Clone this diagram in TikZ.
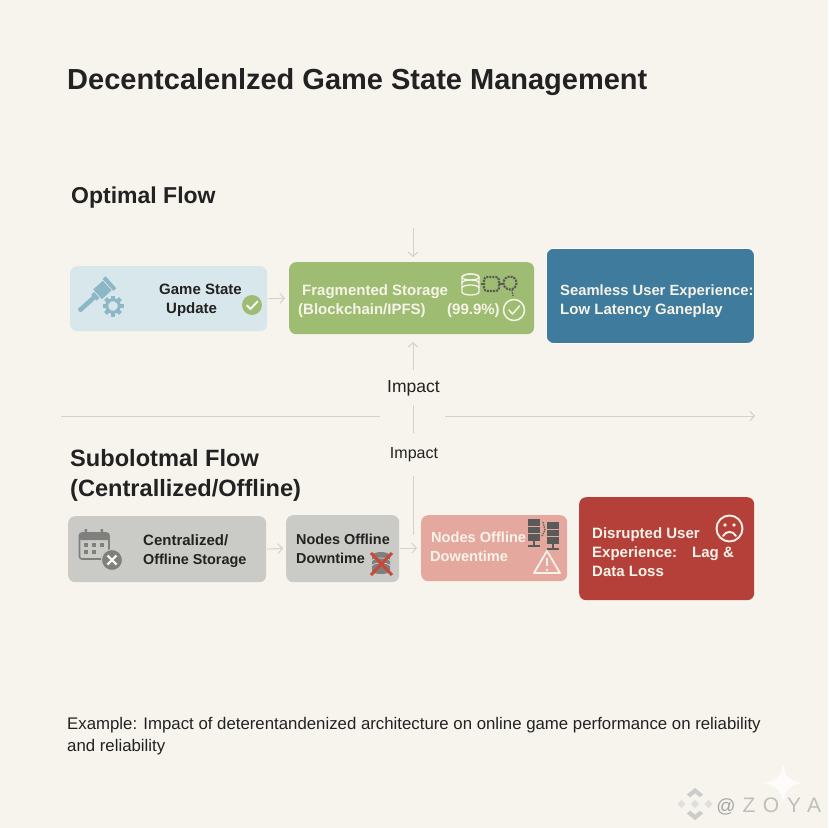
\documentclass[tikz,border=0pt]{standalone}
\usepackage{fontspec}
\setmainfont{Liberation Sans}
\usetikzlibrary{arrows.meta}
\definecolor{bgc}{HTML}{F6F4EC}
\definecolor{ink}{HTML}{222222}
\definecolor{linec}{HTML}{D2D2CC}
\definecolor{gameF}{HTML}{D8E7EC}
\definecolor{fragF}{HTML}{9FBD72}
\definecolor{seamF}{HTML}{3F7B9D}
\definecolor{grayF}{HTML}{CACAC7}
\definecolor{pinkF}{HTML}{E5A89F}
\definecolor{redF}{HTML}{B5403A}
\definecolor{iconB}{HTML}{8DB6C7}
\definecolor{iconG}{HTML}{7F7F7D}
\definecolor{iconD}{HTML}{5A5A58}
\definecolor{lighttxt}{HTML}{F6F3E8}
\definecolor{xred}{HTML}{C8483C}
\tikzset{
  boxn/.style={rounded corners=7pt,inner sep=0pt,anchor=north west},
  txt/.style={inner sep=0pt,anchor=base west,text=ink},
  dark/.style={txt,font=\fontsize{15}{19}\selectfont\bfseries},
  darks/.style={txt,font=\fontsize{14.4}{19}\selectfont\bfseries},
  lite/.style={txt,text=lighttxt,font=\fontsize{15}{19}\selectfont\bfseries},
  lites/.style={txt,text=lighttxt,font=\fontsize{14.6}{19}\selectfont\bfseries},
  arr/.style={draw=linec,line width=1pt,-{Straight Barb[length=4.5pt,width=10pt]}},
  plainline/.style={draw=linec,line width=1pt},
  impactl/.style={inner sep=0pt,text=ink},
  wm/.style={inner sep=0pt,anchor=base,text=gray!50,font=\fontsize{21}{24}\selectfont},
}
\begin{document}
\begin{tikzpicture}[x=1pt,y=-1pt]
\useasboundingbox (0,0) rectangle (828,828);
\fill[bgc] (0,0) rectangle (828,828);

% headings
\node[txt,font=\fontsize{29}{34}\selectfont\bfseries] (title) at (67,89) {Decentcalenlzed Game State Management};
\node[txt,font=\fontsize{23}{30}\selectfont\bfseries] (optimal) at (71,203) {Optimal Flow};
\node[txt,font=\fontsize{23.6}{30}\selectfont\bfseries] (sub1) at (70,466) {Subolotmal Flow};
\node[txt,font=\fontsize{23.6}{30}\selectfont\bfseries] (sub2) at (70,496) {(Centrallized/Offline)};

% boxes
\node[boxn,fill=gameF,minimum width=197pt,minimum height=65pt] (game) at (70,266) {};
\node[boxn,fill=fragF,minimum width=245pt,minimum height=72pt] (frag) at (289,262) {};
\node[boxn,fill=seamF,draw=white,line width=.8pt,minimum width=208pt,minimum height=95pt] (seam) at (546,248) {};
\node[boxn,fill=grayF,minimum width=198pt,minimum height=66pt] (cent) at (68,516) {};
\node[boxn,fill=grayF,minimum width=113pt,minimum height=67pt] (nodesa) at (286,515) {};
\node[boxn,fill=pinkF,minimum width=146pt,minimum height=66pt] (nodesb) at (421,515) {};
\node[boxn,fill=redF,minimum width=175pt,minimum height=103pt] (disr) at (579,497) {};

% box texts
\node[dark] (t1) at (159,294) {Game State};
\node[dark] (t2) at (166,313) {Update};
\node[lite] (t3) at (302,295) {Fragmented Storage};
\node[lite] (t4) at (298,314) {(Blockchain/IPFS)};
\node[lite] (t5) at (447,314) {(99.9\%)};
\node[lites,font=\fontsize{14.8}{19}\selectfont\bfseries] (t6) at (560,295) {Seamless User Experience:};
\node[lite] (t7) at (560,314) {Low Latency Ganeplay};
\node[dark] (t8) at (143,545) {Centralized/};
\node[darks] (t9) at (143,564) {Offline Storage};
\node[darks] (t10) at (296,544) {Nodes Offline};
\node[darks] (t11) at (296,563) {Downtime};
\node[lites] (t12) at (431,542) {Nodes Offline};
\node[lites] (t13) at (430,561) {Dowentime};
\node[lite] (t14) at (592,538) {Disrupted User};
\node[lite] (t15) at (592,557) {Experience:};
\node[lite] (t16) at (692,557) {Lag \&};
\node[lite] (t17) at (592,576) {Data Loss};

% impact labels and connector ends
\node[impactl,font=\fontsize{17.5}{20}\selectfont] (impa) at (413.5,388) {Impact};
\node[impactl,font=\fontsize{16}{19}\selectfont] (impb) at (414,455) {Impact};
\coordinate (topin) at (413,228);
\coordinate (fragtop) at (413,257);
\coordinate (fragbot) at (413,342);
\coordinate (impaup) at (413,370);
\coordinate (impadn) at (413,405);
\coordinate (impbup) at (413,433);
\coordinate (impbdn) at (413,476);
\coordinate (vend) at (413,535);
\coordinate (divL) at (61,416);
\coordinate (divM) at (380,416);
\coordinate (divN) at (445,416);
\coordinate (divR) at (755,416);

% connectors
\path[arr] (game.east) ++(1,0) coordinate (ga) (frag.west) ++(-4,0) coordinate (fa) (ga) -- (fa);
\path[arr] (topin) -- (fragtop);
\path[arr] (impaup) -- (fragbot);
\path[plainline] (impadn) -- (impbup);
\path[plainline] (impbdn) -- (vend);
\path[plainline] (divL) -- (divM);
\path[arr] (divN) -- (divR);
\path[arr] (cent.east) ++(1,0) coordinate (ca) (nodesa.west) ++(-3,-.5) coordinate (cb) (ca) -- (cb);
\path[arr] (nodesa.east) ++(1,-.5) coordinate (na) (nodesb.west) ++(-4,-.0) coordinate (nb) (na) -- (nb);

% hammer + gear
\begin{scope}[shift={(79,311)},rotate=42]
  \fill[iconB,rounded corners=1pt] (0,-2.3) rectangle (21,2.3);
  \fill[iconB] (20,-4) rectangle (24,4);
  \fill[iconB] (25,-6.5) rectangle (38,6.5);
  \fill[iconB] (39,-8) rectangle (43,8);
\end{scope}
\begin{scope}[shift={(113,306)}]
  \draw[iconB,line width=3pt] (0,0) circle (6.3);
  \foreach \a in {0,45,...,315} \fill[iconB,rotate=\a] (7,-2) rectangle (10.5,2);
\end{scope}
% check in game box
\fill[fragF] (252,305) circle (10);
\draw[white,line width=1.8pt,line cap=round,line join=round] (247,305.5) -- (250.5,309) -- (257.5,301.5);

% database + chain in frag box
\begin{scope}[shift={(470.5,0)},lighttxt,line width=1.3pt]
  \draw (-8.5,277) arc[start angle=180,end angle=360,x radius=8.5,y radius=3] -- (8.5,292) arc[start angle=0,end angle=180,x radius=8.5,y radius=3] -- cycle;
  \draw (0,277) ellipse[x radius=8.5,y radius=3];
  \draw (-8.5,283) arc[start angle=180,end angle=360,x radius=8.5,y radius=3];
  \draw (-8.5,288) arc[start angle=180,end angle=360,x radius=8.5,y radius=3];
\end{scope}
\draw[iconD,line width=2.1pt,densely dotted,rounded corners=3pt] (484,277) rectangle (499,291);
\draw[iconD,line width=2.1pt,densely dotted] (510,283) circle (6.5);
\draw[iconD,line width=1.6pt] (481,284) -- (484,284) (499,284) -- (504,284);
\draw[iconD,line width=1.4pt,densely dotted] (512,290) -- (513,296);
\draw[lighttxt,line width=1.5pt] (514,310) circle (10.5);
\draw[lighttxt,line width=1.5pt,line cap=round,line join=round] (509,310) -- (512.5,314) -- (519.5,306);

% calendar + badge
\begin{scope}[iconG]
  \draw[line width=1.6pt,rounded corners=2.5pt] (79.5,533) rectangle (109,559);
  \fill[rounded corners=2pt] (79.5,533) rectangle (109,540);
  \fill (84.5,529) rectangle (87,535) (100.5,529) rectangle (103,535);
  \foreach \x/\y in {86/545,94/545,102/545,86/552,94/552} \fill (\x-2,\y-1.7) rectangle (\x+2,\y+1.7);
\end{scope}
\fill[iconG,draw=grayF,line width=1pt] (112,560) circle (10.5);
\draw[lighttxt,line width=2.2pt] (107.5,555.5) -- (116.5,564.5) (116.5,555.5) -- (107.5,564.5);

% crossed database
\begin{scope}[shift={(381,0)},iconG]
  \fill (-9,556) arc[start angle=180,end angle=360,x radius=9,y radius=3] -- (9,571) arc[start angle=0,end angle=180,x radius=9,y radius=3] -- cycle;
  \fill (0,556) ellipse[x radius=9,y radius=4];
  \draw[grayF,line width=.8pt] (-9,561) arc[start angle=180,end angle=360,x radius=9,y radius=3];
  \draw[grayF,line width=.8pt] (-9,566) arc[start angle=180,end angle=360,x radius=9,y radius=3];
\end{scope}
\draw[xred,line width=3pt] (371,553) -- (392,575) (392,553) -- (371,575);

% servers
\foreach \x/\ya/\wd in {528/519/12,547/522/12}{
  \fill[iconD] (\x,\ya) rectangle (\x+\wd,\ya+22);
  \draw[pinkF,line width=.6pt] (\x,\ya+7) -- (\x+\wd,\ya+7) (\x,\ya+14.5) -- (\x+\wd,\ya+14.5);
  \draw[iconD,line width=1.4pt] (\x+\wd/2,\ya+22) -- (\x+\wd/2,\ya+27);
  \draw[iconD,line width=1.8pt] (\x,\ya+27) -- (\x+\wd,\ya+27);
}
\draw[iconD,line width=1.3pt,densely dotted] (543,522) -- (545,530) -- (542,536);
% warning
\draw[lighttxt,line width=1.8pt,line join=round] (547,551) -- (560,573) -- (534,573) -- cycle;
\draw[lighttxt,line width=2.2pt] (547,558) -- (547,566);
\fill[lighttxt] (547,570) circle (1.3);

% sad face
\draw[lighttxt,line width=1.9pt] (729.5,528.5) circle (13);
\fill[lighttxt] (725,525) circle (1.9) (734,525) circle (1.9);
\draw[lighttxt,line width=1.9pt,line cap=round] (723,536) .. controls (726,530.5) and (733,530.5) .. (736,536);

% caption
\node[txt,font=\fontsize{16.8}{22}\selectfont] (cap1) at (67,729) {Example: Impact of deterentandenized architecture on online game performance on reliability};
\node[txt,font=\fontsize{16.8}{22}\selectfont] (cap2) at (67,751) {and reliability};

% watermark
\fill[white,opacity=.8] (783,764) .. controls (785,777) and (790,781) .. (802,783) .. controls (790,785) and (785,790) .. (783,803) .. controls (781,790) and (776,785) .. (763,783) .. controls (776,781) and (781,777) .. (783,764) -- cycle;
\begin{scope}[shift={(695,804)},scale=1.35]
  \fill[gray!40] (0,-12) -- (6,-7) -- (3.5,-5) -- (0,-8) -- (-3.5,-5) -- (-6,-7) -- cycle;
  \fill[gray!40] (0,12) -- (6,7) -- (3.5,5) -- (0,8) -- (-3.5,5) -- (-6,7) -- cycle;
  \fill[gray!25] (-13,0) -- (-10,-3) -- (-7,0) -- (-10,3) -- cycle (13,0) -- (10,-3) -- (7,0) -- (10,3) -- cycle (0,-3) -- (3,0) -- (0,3) -- (-3,0) -- cycle;
\end{scope}
\node[wm,text=gray!70,font=\fontsize{19}{24}\selectfont] (wma) at (726,812) {@};
\node[wm] (wmz) at (749,812) {Z};
\node[wm] (wmo) at (771,812) {O};
\node[wm] (wmy) at (794,812) {Y};
\node[wm] (wmaa) at (814,812) {A};
\end{tikzpicture}
\end{document}
